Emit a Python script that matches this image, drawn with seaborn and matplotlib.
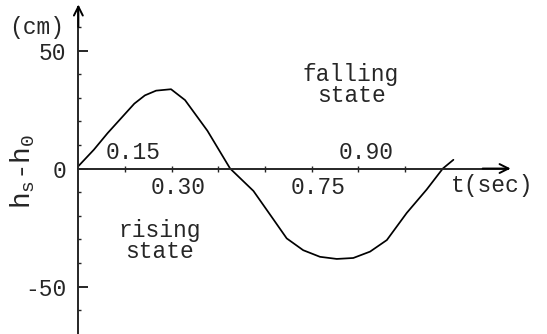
import numpy as np
import pandas as pd
import seaborn as sns
import matplotlib.pyplot as plt

# ========================
# DATA
# ========================
t_sec = [0.0, 0.05, 0.094, 0.18, 0.214, 0.25, 0.298, 0.343, 0.415, 0.488,
         0.563, 0.627, 0.67, 0.723, 0.777, 0.831, 0.884, 0.938, 0.992,
         1.056, 1.12, 1.172, 1.206]
h_cm = [1.0, 8.0, 15.0, 27.5, 31.0, 33.0, 33.6, 29.0, 16.0, 0.0,
        -9.5, -21.5, -29.6, -34.6, -37.4, -38.3, -37.9, -35.2, -30.3,
        -18.8, -8.9, 0.0, 3.7]

x_ticks = [0.15, 0.30, 0.45, 0.60, 0.75, 0.90, 1.05]
upper_labels = {0.15: "0.15", 0.90: "0.90"}
lower_labels = {0.30: "0.30", 0.75: "0.75"}
y_ticks = [-50, 0, 50]
y_minor = [-60, -40, -30, -20, -10, 10, 20, 30, 40, 60]

df = pd.DataFrame({"t": t_sec, "h": h_cm})

# ========================
# STYLE
# ========================
sns.set_style("ticks")
plt.rcParams["font.family"] = ["Liberation Mono", "DejaVu Sans Mono"]
plt.rcParams["mathtext.fontset"] = "custom"
plt.rcParams["mathtext.rm"] = "Liberation Mono"
plt.rcParams["mathtext.it"] = "Liberation Mono"
plt.rcParams["axes.unicode_minus"] = False

FS = 16.5
LW_AX = 1.4

fig = plt.figure(figsize=(5.47, 3.34), dpi=100)
ax = fig.add_axes([0, 0, 1, 1])
ax.patch.set_alpha(0)

sns.lineplot(data=df, x="t", y="h", color="black", linewidth=1.25, ax=ax,
             sort=False, estimator=None)

ax.set_xlim(-0.252, 1.507)
ax.set_ylim(-70.1, 71.4)

# axes through origin
for s in ["top", "right"]:
    ax.spines[s].set_visible(False)
ax.spines["left"].set_position(("data", 0))
ax.spines["bottom"].set_position(("data", 0))
ax.spines["left"].set_bounds(-70.1, 68.5)
ax.spines["bottom"].set_bounds(0, 1.38)
ax.spines["left"].set_linewidth(LW_AX)
ax.spines["bottom"].set_linewidth(LW_AX)

# arrow heads
ax.annotate("", xy=(0, 69.5), xytext=(0, 60),
            arrowprops=dict(arrowstyle="->", lw=LW_AX, color="black",
                            mutation_scale=16, shrinkA=0, shrinkB=0))
ax.annotate("", xy=(1.39, 0), xytext=(1.30, 0),
            arrowprops=dict(arrowstyle="->", lw=LW_AX, color="black",
                            mutation_scale=16, shrinkA=0, shrinkB=0))

# ticks
ax.set_yticks(y_ticks)
ax.set_yticklabels([str(v) for v in y_ticks])
ax.set_yticks(y_minor, minor=True)
ax.tick_params(axis="y", which="major", direction="in", length=7, width=LW_AX,
               pad=8.5, labelsize=FS)
ax.tick_params(axis="y", which="minor", direction="in", length=2.5, width=1.0)

ax.set_xticks(x_ticks)
ax.set_xticklabels([])
ax.tick_params(axis="x", which="major", direction="inout", length=5, width=1.0)

for x, lab in upper_labels.items():
    ax.text(x + 0.025, 6.8, lab, ha="center", va="center", fontsize=FS)
for x, lab in lower_labels.items():
    ax.text(x + 0.022, -8.0, lab, ha="center", va="center", fontsize=FS)

ax.text(1.33, -7.0, "t(sec)", ha="center", va="center", fontsize=FS)
ax.text(-0.045, 59.7, "(cm)", ha="right", va="center", fontsize=FS)
ax.text(-0.178, -1.0, r"h$_{s}$-h$_{0}$", rotation=90, ha="center",
        va="center", fontsize=20)

ax.text(0.877, 35.4, "falling\nstate", ha="center", va="center",
        fontsize=FS, linespacing=0.85)
ax.text(0.26, -30.7, "rising\nstate", ha="center", va="center",
        fontsize=FS, linespacing=0.85)

ax.set_xlabel("")
ax.set_ylabel("")

fig.savefig("out.png", dpi=100)
